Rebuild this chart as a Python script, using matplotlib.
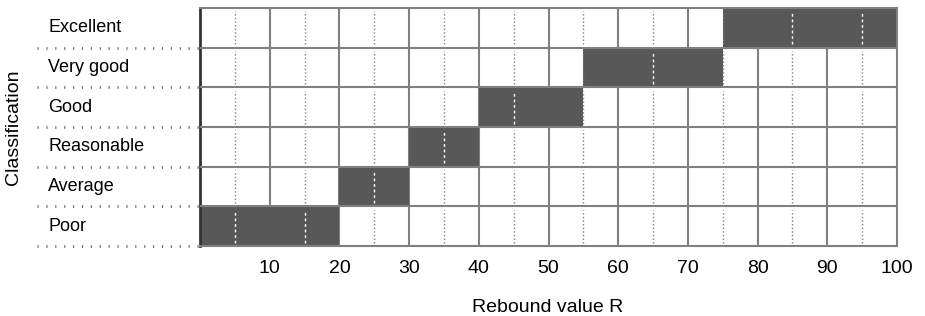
import matplotlib

matplotlib.use("Agg")
import matplotlib.pyplot as plt  # noqa: E402

plt.rcParams["font.family"] = ["Liberation Sans", "DejaVu Sans"]
plt.rcParams["lines.scale_dashes"] = False

# classification bands of the rebound value R (bottom to top)
CLASSES = ["Poor", "Average", "Reasonable", "Good", "Very good", "Excellent"]
R_START = [0, 20, 30, 40, 55, 75]
R_END = [20, 30, 40, 55, 75, 100]
X_TICKS = [10, 20, 30, 40, 50, 60, 70, 80, 90, 100]

BAR = "#585858"
GRID = "#808080"

fig = plt.figure(figsize=(9.25, 3.16), dpi=100)
ax = fig.add_axes([200 / 925, 1 - 246 / 316, 697 / 925, 238 / 316])
ax.set_xlim(0, 100)
ax.set_ylim(0, len(CLASSES))

# bars
for i, (a, b) in enumerate(zip(R_START, R_END)):
    ax.barh(i + 0.5, b - a, left=a, height=1.0, color=BAR, zorder=2, linewidth=0)

# solid grid at tens (under bars), row borders
for x in X_TICKS[:-1]:
    ax.axvline(x, color=GRID, lw=1.5, zorder=1)
for i in range(1, len(CLASSES)):
    ax.axhline(i, color=GRID, lw=1.5, zorder=3)

# dotted lines at fives: gray on white cells, light on dark bars
for i, (a, b) in enumerate(zip(R_START, R_END)):
    for x in range(5, 100, 10):
        inside = a < x < b
        ax.plot([x, x], [i + 0.08, i + 0.92], color="white" if inside else GRID,
                lw=1.0, ls=(0, (2, 2)) if inside else (0, (1, 1.6)), zorder=4)

for s in ax.spines.values():
    s.set_color(GRID)
    s.set_linewidth(1.5)
ax.spines["left"].set_color("#333333")
ax.spines["left"].set_linewidth(2)

# category labels with dotted leaders in the left margin
for i, name in enumerate(CLASSES):
    ax.text(-21.8, i + 0.5, name, ha="left", va="center", fontsize=13)
    ax.plot([-23.4, 0], [i, i], color="#666666", lw=2.0, ls=(0, (0.8, 5.6)),
            clip_on=False, zorder=5)

ax.set_yticks([])
ax.set_xticks(X_TICKS)
ax.set_xticklabels([str(v) for v in X_TICKS], fontsize=14)
ax.tick_params(axis="x", length=0, pad=10)

fig.text(548 / 925, 1 - 307 / 316, "Rebound value R", ha="center", va="center",
         fontsize=14)
fig.text(14 / 925, 1 - 127 / 316, "Classification", ha="center", va="center",
         rotation=90, fontsize=14)

fig.savefig("out.png", dpi=100)
